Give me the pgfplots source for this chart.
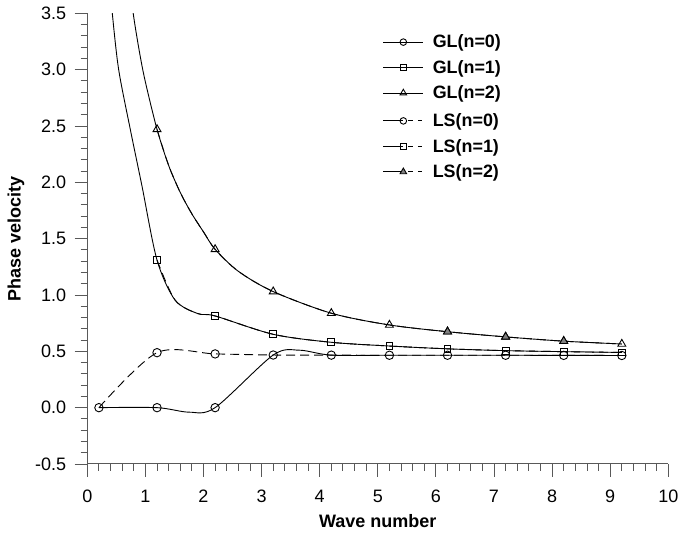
\documentclass[border=0pt]{standalone}
\usepackage{fontspec}
\setmainfont{Liberation Sans}
\usepackage{pgfplots}
\pgfplotsset{compat=1.18}
\pgfplotsset{
  glleg/.style={legend image code/.code={\draw[mark repeat=2,mark phase=2] plot coordinates {(0pt,0pt) (20pt,0pt) (40pt,0pt)};}},
  lsleg/.style={legend image code/.code={
    \draw[solid] (0pt,0pt) -- (20pt,0pt);
    \draw[dash pattern=on 4.5pt off 5pt] (25pt,0pt) -- (40pt,0pt);
    \draw[solid] plot coordinates {(20pt,0pt)};}},
  common/.style={
    scale only axis, width=581pt, height=450.7pt,
    xmin=0, xmax=10, ymin=-0.5, ymax=3.5,
  },
  legfont/.style={font=\bfseries\fontsize{17.9}{21}\selectfont},
}
\begin{document}
\begin{tikzpicture}
\begin{axis}[
  common, name=ax,
  axis lines=left, axis line style={-, black!65, line width=1pt},
  xtick={0,1,2,3,4,5,6,7,8,9,10},
  ytick={-0.5,0,0.5,1,1.5,2,2.5,3,3.5},
  minor x tick num=4, minor y tick num=4,
  tick align=outside, major tick length=12.7pt, minor tick length=6.7pt,
  tick style={black!65, line width=0.9pt},
  /pgf/number format/assume math mode=true,
  y tick label style={/pgf/number format/.cd, fixed, fixed zerofill, precision=1, /tikz/.cd, xshift=-5pt},
  x tick label style={yshift=-10pt},
  tick label style={font=\fontsize{18}{20}\selectfont},
  xlabel={Wave number}, ylabel={Phase velocity},
  label style={font=\bfseries\fontsize{18}{21}\selectfont},
  xlabel style={at={(axis description cs:0.5,-0.1265)}, anchor=center},
  ylabel style={at={(axis description cs:-0.1227,0.5)}, anchor=center},
  legend style={at={(axis cs:5.084,3.328)}, anchor=north west, draw=none, fill=none, legfont, inner sep=0pt, row sep=7pt, column sep=7pt},
  legend cell align=left,
  every axis plot/.append style={line width=0.9pt, black},
]
% ---------- GL n=0 ----------
\addplot[smooth, forget plot] coordinates {(0.2,0)(1.2,0)(1.75,-0.04)(2.2,0)(3.2,0.467)(3.65,0.51)(4.2,0.466)(5.2,0.465)(6.2,0.465)(7.2,0.465)(8.2,0.464)(9.2,0.463)};
\addplot[only marks, mark=o, mark size=4.2pt, forget plot] coordinates {(0.2,0)(1.2,0)(2.2,0)(3.2,0.467)(4.2,0.466)(5.2,0.465)(6.2,0.465)(7.2,0.465)(8.2,0.464)(9.2,0.463)};
% ---------- GL n=1 ----------
\addplot[smooth, forget plot] coordinates {(0.38,3.8)(0.43,3.5)(0.54,3.0)(0.74,2.47)(0.94,1.97)(1.2,1.31)(1.51,0.955)(1.9,0.835)(2.2,0.814)(3.2,0.651)(4.2,0.58)(5.2,0.547)(6.2,0.522)(7.2,0.506)(8.2,0.497)(9.2,0.49)};
\addplot[only marks, mark=square, mark size=3.4pt, forget plot] coordinates {(1.2,1.31)(2.2,0.814)(3.2,0.651)(4.2,0.58)(5.2,0.547)(6.2,0.522)(7.2,0.506)(8.2,0.497)(9.2,0.49)};
% ---------- GL n=2 ----------
\addplot[smooth, forget plot] coordinates {(0.7,3.9)(0.79,3.5)(0.9,3.15)(1.0,2.89)(1.2,2.47)(1.4,2.15)(1.6,1.91)(1.8,1.72)(2.0,1.56)(2.2,1.405)(2.6,1.21)(3.2,1.03)(4.2,0.838)(5.2,0.734)(6.2,0.674)(7.2,0.628)(8.2,0.59)(9.2,0.565)};
\addplot[only marks, mark=triangle, mark size=4.6pt, forget plot] coordinates {(1.2,2.47)(2.2,1.405)(3.2,1.03)(4.2,0.838)(5.2,0.734)(6.2,0.674)(7.2,0.628)(8.2,0.59)(9.2,0.565)};
% ---------- LS n=0 ----------
\addplot[smooth, dash pattern=on 9pt off 5pt, forget plot] coordinates {(0.2,0)(1.2,0.488)(2.2,0.477)(3.2,0.467)(4.2,0.466)(5.2,0.465)(6.2,0.465)(7.2,0.465)(8.2,0.464)(9.2,0.463)};
\addplot[only marks, mark=o, mark size=4.2pt, forget plot] coordinates {(1.2,0.488)(2.2,0.477)};
% ---------- LS n=1 ----------
\addplot[smooth, dash pattern=on 9pt off 5pt, forget plot] coordinates {(1.2,1.31)(1.51,0.955)(1.9,0.835)(2.2,0.814)(3.2,0.651)(4.2,0.58)(5.2,0.547)(6.2,0.522)(7.2,0.506)(8.2,0.497)(9.2,0.49)};
% ---------- LS n=2 ----------
\addplot[smooth, dash pattern=on 9pt off 5pt, forget plot] coordinates {(1.2,2.47)(1.4,2.15)(1.6,1.91)(1.8,1.72)(2.0,1.56)(2.2,1.405)(2.6,1.21)(3.2,1.03)(4.2,0.838)(5.2,0.734)(6.2,0.674)(7.2,0.628)(8.2,0.59)(9.2,0.565)};
\addplot[only marks, mark=triangle*, mark size=4.6pt, mark options={fill=gray}, forget plot] coordinates {(6.2,0.674)(7.2,0.628)(8.2,0.59)};
% ---------- legend (GL) ----------
\addlegendimage{glleg, black, line width=0.9pt, mark=o, mark size=3.3pt}
\addlegendentry{GL(n=0)}
\addlegendimage{glleg, black, line width=0.9pt, mark=square, mark size=2.9pt}
\addlegendentry{GL(n=1)}
\addlegendimage{glleg, black, line width=0.9pt, mark=triangle, mark size=3.8pt}
\addlegendentry{GL(n=2)}
\end{axis}
\begin{axis}[
  common, hide axis,
  legend style={at={(axis cs:5.084,2.6286)}, anchor=north west, draw=none, fill=none, legfont, inner sep=0pt, row sep=7pt, column sep=7pt},
  legend cell align=left,
]
\addlegendimage{lsleg, black, line width=0.9pt, mark=o, mark size=3.3pt, mark options={solid}}
\addlegendentry{LS(n=0)}
\addlegendimage{lsleg, black, line width=0.9pt, mark=square, mark size=2.9pt, mark options={solid}}
\addlegendentry{LS(n=1)}
\addlegendimage{lsleg, black, line width=0.9pt, mark=triangle*, mark size=3.8pt, mark options={solid, fill=gray}}
\addlegendentry{LS(n=2)}
\end{axis}
\pgfresetboundingbox
\path[use as bounding box] ([xshift=-87.3pt,yshift=-77pt]ax.south west) rectangle ([xshift=9.7pt,yshift=13.3pt]ax.north east);
\end{tikzpicture}
\end{document}
